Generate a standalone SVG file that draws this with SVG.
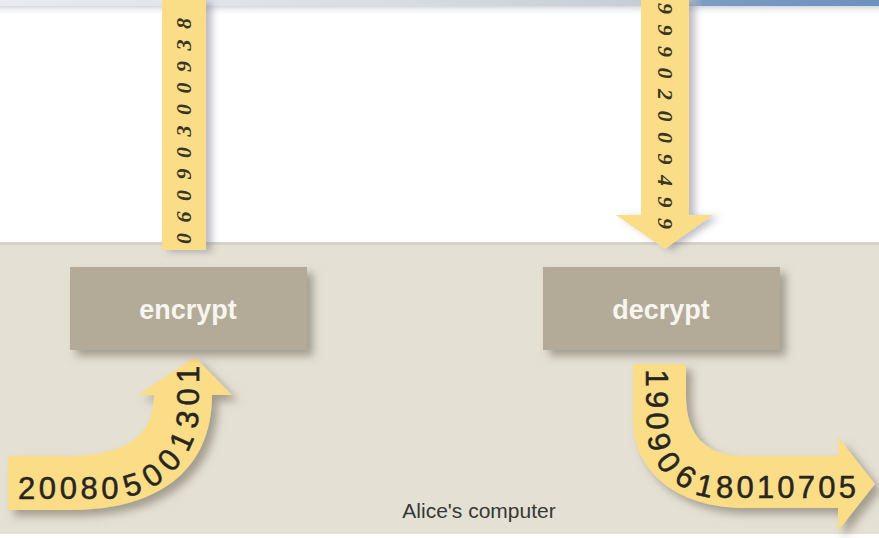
<svg xmlns="http://www.w3.org/2000/svg" width="879" height="538" viewBox="0 0 879 538">
  <defs>
    <linearGradient id="topBand" x1="0" y1="0" x2="1" y2="0">
      <stop offset="0" stop-color="#e9ebee"/>
      <stop offset="0.45" stop-color="#d9dde2"/>
      <stop offset="0.78" stop-color="#c3cad3"/>
      <stop offset="0.8" stop-color="#7c9cc4"/>
      <stop offset="1" stop-color="#6e90bd"/>
    </linearGradient>
    <linearGradient id="topShade" x1="0" y1="0" x2="0" y2="1">
      <stop offset="0" stop-color="#c9ced6" stop-opacity="0.8"/>
      <stop offset="1" stop-color="#ffffff" stop-opacity="0"/>
    </linearGradient>
    <filter id="shadow" x="-20%" y="-20%" width="150%" height="150%">
      <feDropShadow dx="6" dy="6" stdDeviation="4" flood-color="#6d6656" flood-opacity="0.55"/>
    </filter>
    <filter id="stripShadow" x="-30%" y="-5%" width="170%" height="110%">
      <feDropShadow dx="6" dy="2" stdDeviation="3.5" flood-color="#6d7080" flood-opacity="0.45"/>
    </filter>
  </defs>
  <style>
    .band { fill: #fadd86; }
    .box { fill: #b3ab97; }
    .boxLabel { font-family: "Liberation Sans", Arial, sans-serif; font-weight: bold; font-size: 27px; fill: #f7f5ef; text-anchor: middle; }
    .digits { font-family: "Liberation Sans", Arial, sans-serif; font-size: 31px; fill: #262520; stroke: #262520; stroke-width: 0.5px; letter-spacing: 3.6px; }
    .digits text { letter-spacing: 0; text-anchor: middle; }
    .cipher { font-family: "Liberation Serif", "Times New Roman", serif; font-style: italic; font-weight: bold; font-size: 22px; fill: #3a3626; letter-spacing: 10.5px; }
    .caption { font-family: "Liberation Sans", Arial, sans-serif; font-size: 21px; fill: #383835; text-anchor: middle; }
  </style>

  <!-- background -->
  <rect x="0" y="0" width="879" height="538" fill="#ffffff"/>
  <rect x="0" y="0" width="879" height="6" fill="url(#topBand)"/>
  <rect x="0" y="6" width="879" height="10" fill="url(#topShade)"/>

  <!-- Alice's computer -->
  <g id="node-computer">
    <rect x="0" y="242" width="879" height="292" fill="#e4e0d4"/>
    <rect x="0" y="242" width="879" height="3" fill="#d6d1c4"/>
    <text class="caption" x="479" y="518">Alice's computer</text>
  </g>

  <!-- connectors -->
  <g id="connectors">
    <!-- ciphertext leaving encrypt -->
    <g filter="url(#stripShadow)">
      <rect class="band" x="162" y="0" width="44" height="250"/>
    </g>
    <text class="cipher" transform="translate(191,244) rotate(-90)">06090300938</text>

    <!-- ciphertext arriving at decrypt -->
    <g filter="url(#stripShadow)">
      <path class="band" d="M641,0 L689,0 L689,215 L713,215 L665,249 L616,215 L641,215 Z"/>
    </g>
    <text class="cipher" transform="translate(658,3) rotate(90)">99902009499</text>

    <!-- plaintext into encrypt -->
    <g filter="url(#shadow)">
      <path class="band" d="M8,456 L70,456 C125,455 153,438 154,395 L138,395 L195,357 L232,395 L212,395 C212,465 165,510 70,510 L8,510 Z"/>
    </g>
    <g class="digits" id="plaintext-in">
      <text x="18" y="499" style="text-anchor:start;letter-spacing:3.6px">20080</text>
      <!-- digits bent along the curve, tops turned toward the inside -->
      <text transform="translate(131.9,484.3) rotate(-17.4)" y="11">5</text>
      <text transform="translate(152.2,474.7) rotate(-33.5)" y="11">0</text>
      <text transform="translate(169.0,459.8) rotate(-49.6)" y="11">0</text>
      <text transform="translate(180.9,440.9) rotate(-65.7)" y="11">1</text>
      <text transform="translate(187.2,419.3) rotate(-81.9)" y="11">3</text>
      <text transform="translate(188,396.9) rotate(-90)" y="11">0</text>
      <text transform="translate(188,374.4) rotate(-90)" y="11">1</text>
    </g>

    <!-- plaintext out of decrypt -->
    <g filter="url(#shadow)">
      <path class="band" d="M633,364 L686,364 L686,395 C686,435 705,456 745,456 L838,456 L838,437 L875,484 L838,531 L838,508 L745,508 C675,508 633,470 633,420 Z"/>
    </g>
    <g class="digits" id="plaintext-out">
      <text transform="translate(657,378) rotate(90)" y="11">1</text>
      <text transform="translate(657,399.5) rotate(90)" y="11">9</text>
      <text transform="translate(657.5,421) rotate(88)" y="11">0</text>
      <text transform="translate(659.5,442) rotate(75)" y="11">9</text>
      <text transform="translate(669,462) rotate(55)" y="11">0</text>
      <text transform="translate(686,476.5) rotate(33)" y="11">6</text>
      <text transform="translate(705,485.5) rotate(13)" y="11">1</text>
      <text x="716" y="498" style="text-anchor:start;letter-spacing:3.2px">8010705</text>
    </g>
  </g>

  <!-- encrypt -->
  <g id="node-encrypt">
    <rect class="box" x="70" y="267" width="237" height="83" filter="url(#shadow)"/>
    <text class="boxLabel" x="188" y="319">encrypt</text>
  </g>

  <!-- decrypt -->
  <g id="node-decrypt">
    <rect class="box" x="543" y="267" width="237" height="83" filter="url(#shadow)"/>
    <text class="boxLabel" x="661" y="319">decrypt</text>
  </g>
</svg>
